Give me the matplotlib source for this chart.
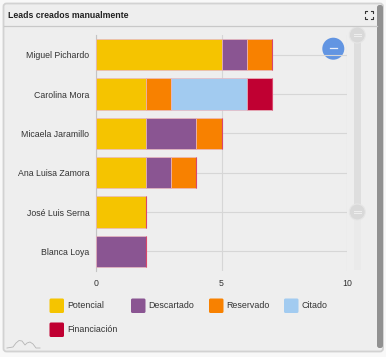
import matplotlib
matplotlib.use("Agg")
import matplotlib.pyplot as plt
from matplotlib.patches import FancyBboxPatch, Rectangle, Circle

W, H = 386, 357

# chart data
people = ["Miguel Pichardo", "Carolina Mora", "Micaela Jaramillo",
          "Ana Luisa Zamora", "José Luis Serna", "Blanca Loya"]
potencial = [5, 2, 2, 2, 2, 0]
descartado = [1, 0, 2, 1, 0, 2]
reservado = [1, 1, 1, 1, 0, 0]
citado = [0, 3, 0, 0, 0, 0]
financiacion = [0, 1, 0, 0, 0, 0]
series_names = ["Potencial", "Descartado", "Reservado", "Citado", "Financiación"]
series_colors = ["#f5c400", "#8a5592", "#f88100", "#a2cbf0", "#c00032"]
x_ticks = [0, 5, 10]

plt.rcParams['font.family'] = ['Liberation Sans', 'DejaVu Sans']

fig = plt.figure(figsize=(W / 100, H / 100), dpi=100, facecolor="#f8f8f8")

# whole figure as a pixel canvas for the panel furniture
bg = fig.add_axes([0, 0, 1, 1])
bg.set_xlim(0, W)
bg.set_ylim(H, 0)
bg.axis('off')

bg.add_patch(FancyBboxPatch((3.5, 3.5), 379.5, 348, boxstyle="round,pad=0,rounding_size=3",
                            fc="#eeeeee", ec="#d2d2d2", lw=1.3))
bg.plot([4, 377], [25.5, 25.5], color="#c8c8c8", lw=0.9)
bg.text(8, 15, "Leads creados manualmente", fontsize=6.3, fontweight='bold',
        color="#222222", va='center', ha='left')

# fullscreen icon
for cx, cy, dx, dy in [(365, 11, 1, 1), (373, 11, -1, 1), (365, 19, 1, -1), (373, 19, -1, -1)]:
    bg.plot([cx + 2 * dx, cx, cx], [cy, cy, cy + 2 * dy], color="#333333", lw=0.8)

# right scrollbar
bg.add_patch(FancyBboxPatch((377, 5), 6, 343, boxstyle="round,pad=0,rounding_size=2.5",
                            fc="#919191", ec="none"))

# zoom slider
bg.add_patch(Rectangle((353.5, 35), 7.5, 177, fc="#dedede", ec="none"))
bg.add_patch(Rectangle((353.5, 212), 7.5, 58, fc="#eaeaea", ec="none"))
for sy in [35, 212]:
    bg.add_patch(Circle((357.3, sy), 8, fc="#d9d9d9", ec="#e6e6e6", lw=0.8))
    bg.plot([354, 361], [sy - 1, sy - 1], color="#efefef", lw=0.7)
    bg.plot([354, 361], [sy + 1, sy + 1], color="#efefef", lw=0.7)

# blue minus button
bg.add_patch(Circle((333.3, 48.7), 11, fc="#6295e2", ec="none", zorder=5))
bg.plot([330, 337], [48, 48], color="#e8eefa", lw=0.9, zorder=6)

# little sparkline at the bottom left
spark_x = [7, 13, 16, 19, 22, 25, 27, 30, 33, 36, 40]
spark_y = [348, 347, 343, 340.5, 341, 345, 343, 342, 344, 348, 348]
bg.plot(spark_x, spark_y, color="#b5b5b5", lw=0.6)

# main plot
ax = fig.add_axes([95.7 / W, 1 - 271 / H, (347.3 - 95.7) / W, 236 / H])
ax.set_facecolor("none")
series = [potencial, descartado, reservado, citado, financiacion]
ypos = list(range(len(people)))
left = [0] * len(people)
for name, vals, col in zip(series_names, series, series_colors):
    ax.barh(ypos, vals, left=left, height=0.805, color=col, edgecolor="#e9b7c0",
            linewidth=0.5, label=name, zorder=3)
    left = [a + b for a, b in zip(left, vals)]

# the thin pink line closing each stack
ax.barh(ypos, [0] * len(people), left=left, height=0.805, color="none",
        edgecolor="#d9466c", linewidth=0.8, zorder=4)

ax.set_xlim(0, 10)
ax.set_ylim(len(people) - 0.5, -0.5)
ax.set_xticks(x_ticks)
ax.set_yticks(ypos)
ax.set_yticklabels(people)
ax.tick_params(axis='both', length=0, labelsize=6.3, labelcolor="#333333")
ax.tick_params(axis='y', pad=4.6)
ax.tick_params(axis='x', pad=5.5)
ax.grid(True, color="#d6d6d6", lw=0.8, zorder=0)
for side in ['top', 'right', 'bottom']:
    ax.spines[side].set_visible(False)
ax.spines['left'].set_color("#c4c4c4")

# legend by hand so it keeps the uneven column spacing
legend_pos = [(49.5, 298.5), (131, 298.5), (209, 298.5), (284, 298.5), (49.5, 322.5)]
for name, col, (lx, ly) in zip(series_names, series_colors, legend_pos):
    bg.add_patch(FancyBboxPatch((lx, ly), 14.5, 14.5, boxstyle="round,pad=0,rounding_size=1.5",
                                fc=col, ec="none"))
    bg.text(lx + 17.5, ly + 6.5, name, fontsize=6.4, color="#333333", va='center', ha='left')

fig.savefig("out.png", dpi=100, facecolor=fig.get_facecolor())
